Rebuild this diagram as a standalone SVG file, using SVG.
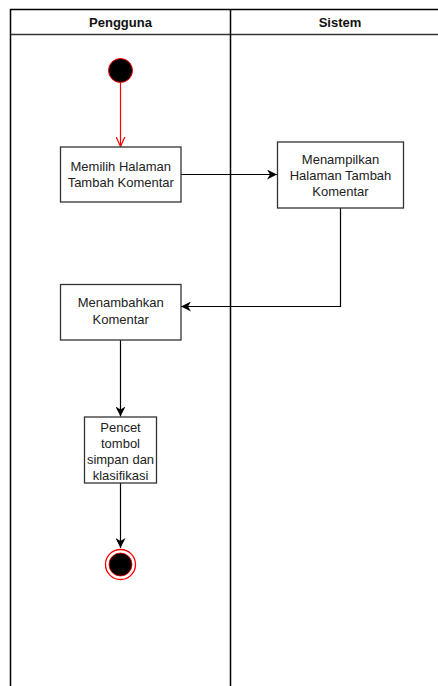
<svg xmlns="http://www.w3.org/2000/svg" width="438" height="686" viewBox="0 0 438 686">
  <style>
    .lane { fill: none; stroke: #000; stroke-width: 1.5; }
    .head { font-family: "Liberation Sans", Arial, sans-serif; font-size: 13px; font-weight: bold; fill: #111; text-anchor: middle; }
    .box { fill: #fff; stroke: #333; stroke-width: 1.3; }
    .lbl { font-family: "Liberation Sans", Arial, sans-serif; font-size: 13px; fill: #222; text-anchor: middle; }
    .edge { fill: none; stroke: #000; stroke-width: 1.2; }
    .edge-red { fill: none; stroke: #f00; stroke-width: 1.2; }
  </style>
  <defs>
    <marker id="arrow" viewBox="0 0 10 10" refX="10" refY="5" markerWidth="10" markerHeight="10" markerUnits="userSpaceOnUse" orient="auto">
      <path d="M0,0 L10,5 L0,10 L3,5 Z" fill="#000"/>
    </marker>
    <marker id="arrow-open" viewBox="0 0 10 10" refX="10" refY="5" markerWidth="10" markerHeight="10" markerUnits="userSpaceOnUse" orient="auto">
      <path d="M0,0.5 L10,5 L0,9.5" fill="none" stroke="#f00" stroke-width="1.2"/>
    </marker>
  </defs>

  <!-- swimlane frame -->
  <g id="lanes">
    <path class="lane" d="M10.5,686 V9.5 H450"/>
    <line x1="10.5" y1="34.5" x2="450" y2="34.5" stroke="#333" stroke-width="1.3"/>
    <line class="lane" x1="230.5" y1="9.5" x2="230.5" y2="686"/>
    <text class="head" x="120.5" y="26.5">Pengguna</text>
    <text class="head" x="340" y="26.5">Sistem</text>
  </g>

  <!-- connectors -->
  <g id="connectors">
    <line class="edge-red" x1="120.5" y1="83" x2="120.5" y2="146.5" marker-end="url(#arrow-open)"/>
    <line class="edge" x1="181" y1="174.5" x2="277" y2="174.5" marker-end="url(#arrow)"/>
    <polyline class="edge" points="340.5,208 340.5,306.5 181,306.5" marker-end="url(#arrow)"/>
    <line class="edge" x1="120.5" y1="340" x2="120.5" y2="416.5" marker-end="url(#arrow)"/>
    <line class="edge" x1="120.5" y1="483" x2="120.5" y2="548" marker-end="url(#arrow)"/>
  </g>

  <g id="start">
    <circle cx="120.5" cy="70.5" r="12" fill="#000" stroke="#f00" stroke-width="1"/>
  </g>

  <g id="pilih-halaman">
    <rect class="box" x="60.5" y="147" width="120.5" height="55"/>
    <text class="lbl" x="120.75" y="170.5">Memilih Halaman</text>
    <text class="lbl" x="120.75" y="187">Tambah Komentar</text>
  </g>

  <g id="tampil-halaman">
    <rect class="box" x="277.5" y="142" width="126" height="66"/>
    <text class="lbl" x="340.5" y="164">Menampilkan</text>
    <text class="lbl" x="340.5" y="179.5">Halaman Tambah</text>
    <text class="lbl" x="340.5" y="195.5">Komentar</text>
  </g>

  <g id="tambah-komentar">
    <rect class="box" x="60.5" y="284.5" width="120.5" height="55.5"/>
    <text class="lbl" x="120.75" y="307">Menambahkan</text>
    <text class="lbl" x="120.75" y="323.5">Komentar</text>
  </g>

  <g id="simpan-klasifikasi">
    <rect class="box" x="84.5" y="417" width="72" height="66"/>
    <text class="lbl" x="120.5" y="432">Pencet</text>
    <text class="lbl" x="120.5" y="448">tombol</text>
    <text class="lbl" x="120.5" y="464">simpan dan</text>
    <text class="lbl" x="120.5" y="480">klasifikasi</text>
  </g>

  <g id="end">
    <circle cx="120.5" cy="564.5" r="15" fill="#fff" stroke="#f00" stroke-width="1.3"/>
    <circle cx="120.5" cy="564.5" r="11.5" fill="#000" stroke="#f00" stroke-width="0.8"/>
  </g>
</svg>
